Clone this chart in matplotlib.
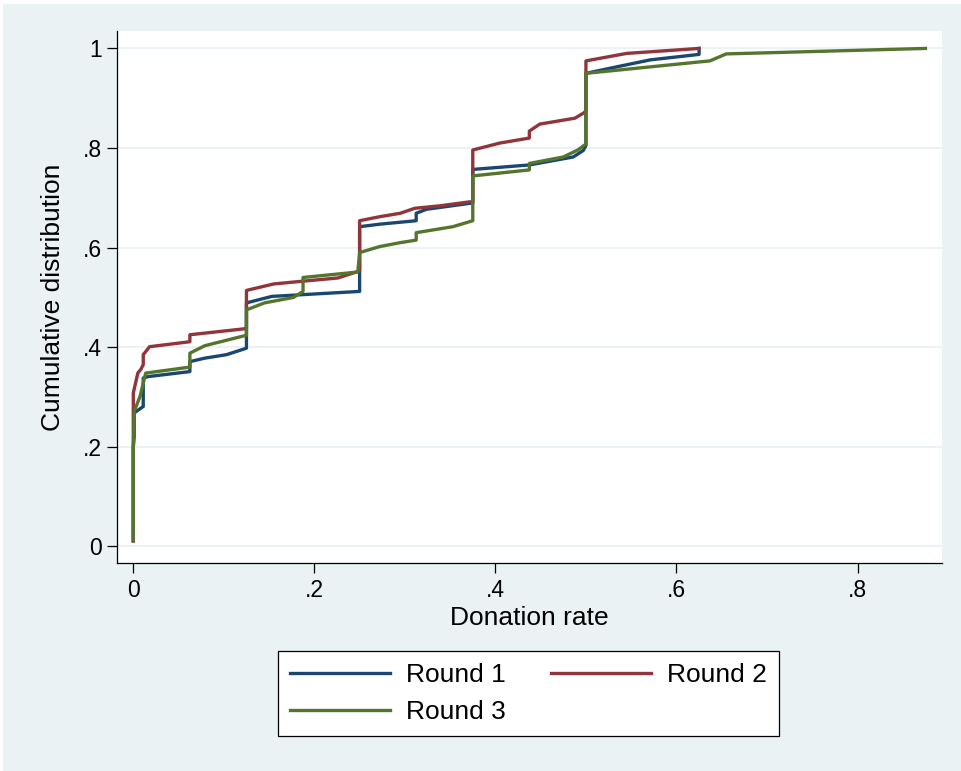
import matplotlib
matplotlib.use("Agg")
import matplotlib.pyplot as plt
from matplotlib.patches import Rectangle

plt.rcParams['font.family'] = ['Liberation Sans', 'DejaVu Sans']

# Datos: distribución acumulada de la tasa de donación por ronda
x_r1 = [0, 0, 0.001, 0.001, 0.011, 0.011, 0.0166, 0.0625, 0.0625, 0.079, 0.103, 0.125, 0.125,
        0.153, 0.25, 0.25, 0.272, 0.3125, 0.3125, 0.324, 0.372, 0.375, 0.375, 0.4375, 0.486, 0.497,
        0.5, 0.5, 0.534, 0.571, 0.625, 0.625]
y_r1 = [0.011, 0.20, 0.22, 0.268, 0.281, 0.338, 0.341, 0.351, 0.371, 0.378, 0.385, 0.398, 0.489,
        0.502, 0.512, 0.642, 0.647, 0.654, 0.669, 0.677, 0.689, 0.689, 0.757, 0.766, 0.782, 0.795,
        0.805, 0.950, 0.963, 0.977, 0.988, 1.0]

x_r2 = [0, 0, 0.005, 0.0085, 0.011, 0.011, 0.018, 0.0625, 0.0625, 0.123, 0.125, 0.125, 0.155,
        0.184, 0.226, 0.248, 0.25, 0.25, 0.272, 0.295, 0.311, 0.339, 0.372, 0.375, 0.375, 0.405,
        0.4375, 0.4375, 0.449, 0.488, 0.498, 0.5, 0.5, 0.545, 0.625]
y_r2 = [0.011, 0.308, 0.348, 0.356, 0.365, 0.385, 0.401, 0.411, 0.425, 0.437, 0.437, 0.514, 0.527,
        0.532, 0.539, 0.552, 0.555, 0.654, 0.662, 0.669, 0.679, 0.684, 0.692, 0.692, 0.796, 0.810,
        0.820, 0.834, 0.848, 0.860, 0.871, 0.875, 0.975, 0.990, 1.0]

x_r3 = [0, 0, 0.001, 0.0074, 0.0137, 0.0625, 0.0625, 0.079, 0.125, 0.125, 0.145, 0.177, 0.1875,
        0.1875, 0.248, 0.25, 0.272, 0.295, 0.3125, 0.3125, 0.353, 0.375, 0.375, 0.4375, 0.4375,
        0.475, 0.491, 0.5, 0.5, 0.637, 0.655, 0.875]
y_r3 = [0.013, 0.194, 0.271, 0.301, 0.348, 0.360, 0.388, 0.403, 0.424, 0.475, 0.489, 0.500, 0.512,
        0.540, 0.551, 0.590, 0.602, 0.610, 0.615, 0.630, 0.642, 0.654, 0.744, 0.756, 0.769,
        0.782, 0.796, 0.808, 0.950, 0.975, 0.989, 1.0]

etiquetas = ['Round 1', 'Round 2', 'Round 3']
colores = ['#1A476F', '#90353B', '#55752F']

x_ticks = [0, 0.2, 0.4, 0.6, 0.8]
x_tick_labels = ['0', '.2', '.4', '.6', '.8']
y_ticks = [0, 0.2, 0.4, 0.6, 0.8, 1.0]
y_tick_labels = ['0', '.2', '.4', '.6', '.8', '1']

fondo = '#EAF2F3'

# Figura con fondo estilo Stata
fig = plt.figure(figsize=(9.61, 7.71), dpi=100, facecolor='white')
fig.patches.append(Rectangle((3 / 961, 0), 958 / 961, 767 / 771, transform=fig.transFigure,
                             facecolor=fondo, edgecolor='none', zorder=-10))

ax = fig.add_axes([117 / 961, 1 - 563.3 / 771, (941.7 - 117) / 961, (563.3 - 31) / 771])
ax.set_facecolor('white')

# Líneas
l1, = ax.plot(x_r1, y_r1, color=colores[0], lw=2.4, label=etiquetas[0], zorder=3)
l2, = ax.plot(x_r2, y_r2, color=colores[1], lw=2.4, label=etiquetas[1], zorder=3)
l3, = ax.plot(x_r3, y_r3, color=colores[2], lw=2.4, label=etiquetas[2], zorder=3)

ax.set_xlim(-0.018, 0.893)
ax.set_ylim(-0.034, 1.035)

ax.set_xticks(x_ticks)
ax.set_xticklabels(x_tick_labels)
ax.set_yticks(y_ticks)
ax.set_yticklabels(y_tick_labels)
ax.tick_params(axis='both', direction='out', length=7, width=0.9, labelsize=16.5, pad=4, colors='black')

# Rejilla horizontal
ax.yaxis.grid(True, color=fondo, lw=1.4, zorder=0)
ax.set_axisbelow(True)

for lado in ['top', 'right']:
    ax.spines[lado].set_visible(False)
for lado in ['left', 'bottom']:
    ax.spines[lado].set_linewidth(0.9)
    ax.spines[lado].set_color('black')

# Etiquetas de los ejes
ax.set_xlabel('Donation rate', fontsize=19, labelpad=3)
ax.set_ylabel('Cumulative distribution', fontsize=19, labelpad=13)

# Leyenda: Round 1 y Round 2 arriba, Round 3 abajo
leg = fig.legend([l1, l3, l2], [etiquetas[0], etiquetas[2], etiquetas[1]], ncol=2,
                 loc='center', bbox_to_anchor=(528.5 / 961, 1 - 693.5 / 771),
                 fontsize=19, handlelength=3.8, handletextpad=0.6, columnspacing=1.7,
                 labelspacing=0.5, borderpad=0.45, fancybox=False, framealpha=1,
                 edgecolor='black')
leg.get_frame().set_linewidth(0.9)

plt.savefig('out.png', dpi=100, facecolor=fig.get_facecolor())
